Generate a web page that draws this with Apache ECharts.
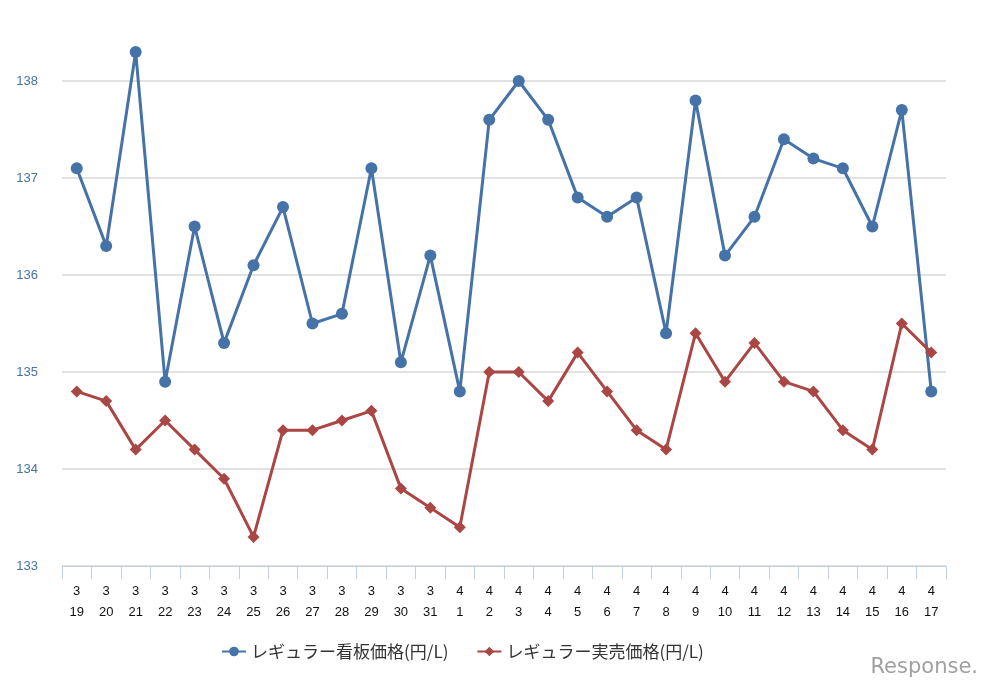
<!DOCTYPE html>
<html>
<head>
<meta charset="utf-8">
<script src="https://cdn.jsdelivr.net/npm/echarts@6/dist/echarts.min.js"></script>
<style>
  html, body { margin: 0; padding: 0; background: #fff; }
  #chart { width: 990px; height: 690px; }
</style>
</head>
<body>
<div id="chart"></div>
<script>
const months = ['3','3','3','3','3','3','3','3','3','3','3','3','3','4','4','4','4','4','4','4','4','4','4','4','4','4','4','4','4','4'];
const days = ['19','20','21','22','23','24','25','26','27','28','29','30','31','1','2','3','4','5','6','7','8','9','10','11','12','13','14','15','16','17'];
const signPrice = [137.1,136.3,138.3,134.9,136.5,135.3,136.1,136.7,135.5,135.6,137.1,135.1,136.2,134.8,137.6,138.0,137.6,136.8,136.6,136.8,135.4,137.8,136.2,136.6,137.4,137.2,137.1,136.5,137.7,134.8];
const salePrice = [134.8,134.7,134.2,134.5,134.2,133.9,133.3,134.4,134.4,134.5,134.6,133.8,133.6,133.4,135.0,135.0,134.7,135.2,134.8,134.4,134.2,135.4,134.9,135.3,134.9,134.8,134.4,134.2,135.5,135.2];
const seriesNames = ['レギュラー看板価格(円/L)', 'レギュラー実売価格(円/L)'];

(function(){
  'use strict';
  const categories = months.map((m, i)=> m + '\n' + days[i]);
  const font = '"Noto Sans CJK JP", "DejaVu Sans", sans-serif';
  const numFont = 'Arial, "Liberation Sans", sans-serif';
  const chart = echarts.init(document.getElementById('chart'));
  chart.setOption({
    animation: false,
    textStyle: { fontFamily: font },
    grid: { left: 62, right: 44, top: 81, bottom: 124 },
    legend: {
      bottom: 25,
      left: 216,
      itemGap: 28,
      itemWidth: 24,
      itemHeight: 12,
      textStyle: { fontSize: 17, color: '#333', fontFamily: font },
      data: seriesNames
    },
    xAxis: {
      type: 'category',
      data: categories,
      boundaryGap: true,
      axisLine: { lineStyle: { color: '#c0d0e0', width: 1 } },
      axisTick: { show: true, length: 13, lineStyle: { color: '#c0d0e0' } },
      axisLabel: { color: '#111', fontSize: 13, lineHeight: 21, margin: 15, interval: 0, fontFamily: numFont }
    },
    yAxis: {
      type: 'value',
      min: 133,
      max: 138,
      interval: 1,
      axisLine: { show: false },
      axisTick: { show: false },
      axisLabel: { color: '#4572a7', fontSize: 13, margin: 24, fontFamily: numFont },
      splitLine: { lineStyle: { color: '#d8d8d8', width: 1.5 } }
    },
    series: [
      {
        name: seriesNames[0],
        type: 'line',
        data: signPrice,
        clip: false,
        symbol: 'circle',
        symbolSize: 12,
        itemStyle: { color: '#4572a7' },
        lineStyle: { color: '#4572a7', width: 3 }
      },
      {
        name: seriesNames[1],
        type: 'line',
        data: salePrice,
        clip: false,
        symbol: 'diamond',
        symbolSize: 12,
        itemStyle: { color: '#aa4643' },
        lineStyle: { color: '#aa4643', width: 3 }
      }
    ],
    graphic: [{
      type: 'text',
      right: 12,
      bottom: 12,
      style: { text: 'Response.', fill: '#a0a0a0', font: '21px "DejaVu Sans", sans-serif' }
    }]
  });
})();
</script>
</body>
</html>
